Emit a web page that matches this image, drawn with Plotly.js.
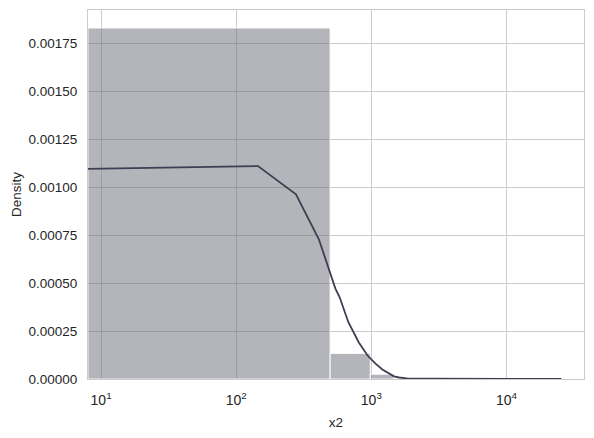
<!DOCTYPE html>
<html>
<head>
<meta charset="utf-8">
<script src="https://cdn.plot.ly/plotly-3.0.1.min.js"></script>
<style>html,body{margin:0;padding:0;background:#fff;}#chart{width:594px;height:438px;}</style>
</head>
<body>
<div id="chart"></div>
<script>
// Histogram bins (linear bins shown on a log x axis)
const binEdges = [8, 495, 982, 1469];
const binDensity = [0.001828, 0.000133, 0.0000245];

// KDE curve
const kdeX = [8, 145, 277, 409, 542, 582, 675, 808, 941, 1074, 1207, 1340, 1473, 1606, 1739, 1872, 2500, 3500, 4500, 6000, 8000, 12000, 18000, 25500];
const kdeY = [0.001094, 0.001109, 0.000962, 0.000728, 0.000471, 0.000427, 0.000297, 0.00019, 0.000121, 0.00008, 0.0000495, 0.00003, 0.000014, 0.0000078, 0.000004, 0.0000022, 0.0000015, 0.000001, 0.0000015, 0.0000008, 0.0000005, 0.0000004, 0.0000004, 0.0000003];

const yTicks = [0, 0.00025, 0.0005, 0.00075, 0.001, 0.00125, 0.0015, 0.00175];
const xTicks = [10, 100, 1000, 10000];
const xTickText = ['10<sup>1</sup>', '10<sup>2</sup>', '10<sup>3</sup>', '10<sup>4</sup>'];

// build bar polygons
const bx = [], by = [];
for (let i = 0; i < binDensity.length; i++) {
  const l = binEdges[i], r = binEdges[i + 1], h = binDensity[i];
  bx.push(l, l, r, r, l, null);
  by.push(0, h, h, 0, 0, null);
}

const traces = [
  {
    type: 'scatter', mode: 'lines', x: bx, y: by, fill: 'toself',
    fillcolor: 'rgba(105,106,120,0.5)',
    line: {color: 'rgba(255,255,255,0.8)', width: 1},
    hoverinfo: 'skip', showlegend: false
  },
  {
    type: 'scatter', mode: 'lines', x: kdeX, y: kdeY,
    line: {color: '#3f3e52', width: 1.8},
    showlegend: false
  }
];

const font = {family: '"Liberation Sans", Arial, sans-serif', size: 13.5, color: '#262626'};

const layout = {
  width: 594, height: 438,
  margin: {l: 88, r: 10, t: 10, b: 59},
  paper_bgcolor: '#ffffff', plot_bgcolor: '#ffffff',
  font: font,
  xaxis: {
    type: 'log',
    range: [Math.log10(8), 4.574],
    tickvals: xTicks, ticktext: xTickText,
    tickfont: {family: font.family, size: 14, color: '#262626'},
    showgrid: true, gridcolor: '#cccccc', gridwidth: 1,
    showline: true, linecolor: '#cccccc', linewidth: 1, mirror: true,
    zeroline: false,
    ticks: 'outside', ticklen: 8, tickcolor: 'rgba(0,0,0,0)',
    title: {text: 'x2', font: font, standoff: 10}
  },
  yaxis: {
    range: [0, 0.001922],
    tickvals: yTicks, tickformat: '.5f',
    showgrid: true, gridcolor: '#cccccc', gridwidth: 1,
    showline: true, linecolor: '#cccccc', linewidth: 1, mirror: true,
    zeroline: false,
    ticks: 'outside', ticklen: 7, tickcolor: 'rgba(0,0,0,0)',
    title: {text: 'Density', font: font, standoff: 3}
  }
};

Plotly.newPlot('chart', traces, layout, {displayModeBar: false, staticPlot: true});
</script>
</body>
</html>
